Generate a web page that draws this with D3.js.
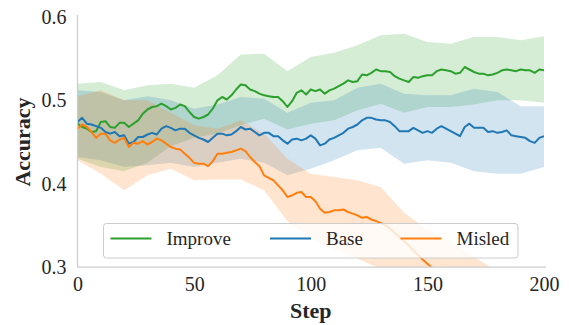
<!DOCTYPE html>
<html>
<head>
<meta charset="utf-8">
<script src="https://cdn.jsdelivr.net/npm/d3@7"></script>
<style>
  html, body { margin: 0; padding: 0; background: #fff; }
  svg { display: block; }
  svg text { font-family: "Liberation Serif", "DejaVu Serif", serif !important; }
</style>
</head>
<body>
<svg id="chart" width="569" height="325"></svg>
<script>
// ---------------- data ----------------
const seriesNames = ["Improve", "Base", "Misled"];
const seriesColors = ["#2ca02c", "#1f77b4", "#ff7f0e"];

// mean curves, one value every 2 steps (0..200)
const meanSteps = d3.range(0, 201, 2);
const improveMean = [
  0.472,0.468,0.466,0.462,0.463,0.474,0.475,0.468,0.467,0.473,
  0.473,0.468,0.472,0.476,0.484,0.489,0.492,0.493,0.496,0.493,
  0.489,0.491,0.495,0.493,0.486,0.480,0.478,0.480,0.483,0.490,
  0.500,0.504,0.501,0.506,0.513,0.519,0.518,0.513,0.511,0.508,
  0.506,0.505,0.504,0.504,0.499,0.492,0.499,0.509,0.512,0.507,
  0.513,0.511,0.513,0.508,0.512,0.514,0.517,0.520,0.524,0.522,
  0.523,0.531,0.530,0.533,0.537,0.535,0.535,0.534,0.529,0.526,
  0.524,0.522,0.528,0.527,0.529,0.530,0.530,0.535,0.537,0.536,
  0.535,0.532,0.533,0.540,0.537,0.534,0.532,0.532,0.530,0.531,
  0.533,0.536,0.537,0.536,0.535,0.537,0.536,0.536,0.533,0.537,
  0.536
];
const baseMean = [
  0.474,0.479,0.472,0.471,0.469,0.467,0.462,0.460,0.462,0.457,
  0.458,0.448,0.450,0.456,0.456,0.459,0.461,0.459,0.466,0.469,
  0.467,0.464,0.466,0.466,0.461,0.458,0.455,0.453,0.450,0.455,
  0.460,0.460,0.458,0.459,0.463,0.468,0.465,0.466,0.462,0.458,
  0.461,0.461,0.457,0.457,0.452,0.448,0.453,0.454,0.452,0.454,
  0.458,0.454,0.446,0.448,0.453,0.455,0.458,0.461,0.466,0.468,
  0.471,0.476,0.479,0.479,0.477,0.476,0.476,0.474,0.469,0.463,
  0.463,0.463,0.467,0.464,0.461,0.463,0.461,0.466,0.469,0.466,
  0.463,0.460,0.457,0.468,0.472,0.467,0.467,0.467,0.462,0.463,
  0.461,0.462,0.464,0.458,0.457,0.456,0.455,0.451,0.449,0.455,
  0.457
];
const misledMean = [
  0.466,0.471,0.468,0.462,0.455,0.460,0.460,0.452,0.449,0.453,
  0.455,0.444,0.449,0.448,0.451,0.447,0.450,0.454,0.452,0.448,
  0.444,0.442,0.441,0.436,0.431,0.425,0.424,0.424,0.421,0.427,
  0.436,0.436,0.437,0.438,0.440,0.442,0.439,0.432,0.426,0.421,
  0.410,0.407,0.404,0.398,0.392,0.384,0.386,0.389,0.390,0.384,
  0.384,0.379,0.370,0.365,0.366,0.368,0.368,0.369,0.366,0.364,
  0.362,0.359,0.360,0.357,0.355,0.353,0.350,0.346,0.341,0.336,
  0.331,0.326,0.320,0.314,0.309,0.304,0.299,0.293,0.288,0.283,
  0.278,0.274,0.268,0.265,0.259,0.255,0.251,0.246,0.242,0.238,
  0.233,0.230,0.226,0.221,0.218,0.214,0.210,0.207,0.203,0.200,
  0.197
];

// confidence bands, one value every 10 steps (0..200)
const bandSteps = d3.range(0, 201, 10);
const improveUpper = [0.520,0.522,0.512,0.518,0.520,0.515,0.530,0.555,0.556,0.535,0.552,0.557,0.566,0.578,0.580,0.570,0.568,0.576,0.576,0.572,0.577];
const improveLower = [0.430,0.420,0.415,0.425,0.445,0.455,0.460,0.470,0.478,0.465,0.472,0.476,0.488,0.496,0.485,0.492,0.492,0.495,0.500,0.500,0.497];
const baseUpper    = [0.512,0.510,0.500,0.505,0.500,0.490,0.495,0.504,0.502,0.485,0.497,0.500,0.515,0.520,0.508,0.506,0.506,0.514,0.510,0.493,0.493];
const baseLower    = [0.432,0.428,0.420,0.422,0.425,0.420,0.425,0.430,0.425,0.410,0.418,0.428,0.440,0.443,0.424,0.428,0.425,0.415,0.412,0.412,0.420];
const misledUpper  = [0.505,0.512,0.500,0.500,0.485,0.470,0.466,0.476,0.460,0.430,0.412,0.408,0.404,0.396,0.365,0.345,0.330,0.312,0.295,0.280,0.260];
const misledLower  = [0.428,0.412,0.392,0.410,0.418,0.404,0.405,0.405,0.392,0.355,0.335,0.322,0.310,0.298,0.285,0.260,0.240,0.220,0.200,0.180,0.160];

const xTicks = [0, 50, 100, 150, 200];
const yTicks = [0.3, 0.4, 0.5, 0.6];

// ---------------- layout ----------------
const FONT = '"Liberation Serif", "DejaVu Serif", serif';
const svg = d3.select("#chart");
const L = 77.5, R = 544, T = 17, B = 267;
const x = d3.scaleLinear().domain([0, 200]).range([L, R]);
const y = d3.scaleLinear().domain([0.3, 0.6]).range([B, T]);

svg.append("defs").append("clipPath").attr("id", "plotclip")
  .append("rect").attr("x", L).attr("y", T).attr("width", R - L).attr("height", B - T);

const means = [improveMean, baseMean, misledMean];
const uppers = [improveUpper, baseUpper, misledUpper];
const lowers = [improveLower, baseLower, misledLower];

const plot = svg.append("g").attr("clip-path", "url(#plotclip)");

const area = d3.area()
  .x(d => x(d.s)).y0(d => y(d.lo)).y1(d => y(d.hi));
const line = d3.line().x(d => x(d.s)).y(d => y(d.v));

// bands first (matplotlib zorder 1)
seriesNames.forEach((name, i) => {
  const pts = bandSteps.map((s, k) => ({ s, lo: lowers[i][k], hi: uppers[i][k] }));
  plot.append("path").attr("d", area(pts))
    .attr("fill", seriesColors[i]).attr("fill-opacity", 0.2).attr("stroke", "none");
});
// then lines
seriesNames.forEach((name, i) => {
  const pts = meanSteps.map((s, k) => ({ s, v: means[i][k] }));
  plot.append("path").attr("d", line(pts))
    .attr("fill", "none").attr("stroke", seriesColors[i])
    .attr("stroke-width", 2).attr("stroke-linejoin", "round").attr("stroke-linecap", "butt");
});

// axes (spines only, no tick marks)
const xAxis = d3.axisBottom(x).tickValues(xTicks).tickSize(0).tickPadding(10).tickFormat(d3.format("d"));
const yAxis = d3.axisLeft(y).tickValues(yTicks).tickSize(0).tickPadding(11).tickFormat(d3.format(".1f"));

const gx = svg.append("g").attr("transform", `translate(0,${B})`).call(xAxis);
const gy = svg.append("g").attr("transform", `translate(${L},0)`).call(yAxis);
[gx, gy].forEach(g => {
  g.attr("font-family", null).attr("font-size", null);
  g.select(".domain").attr("stroke", "#cccccc").attr("stroke-width", 1.25);
  g.selectAll("text").style("font-family", FONT).style("font-size", "20px").attr("fill", "#262626");
});
gx.select(".domain").attr("d", `M${L},0H${R + 2}`);
gy.select(".domain").attr("d", `M0,${B}V${T - 2}`);

// axis titles
svg.append("text").attr("x", (L + R) / 2).attr("y", 318)
  .attr("text-anchor", "middle").style("font-family", FONT).style("font-size", "22px")
  .attr("font-weight", "bold").attr("fill", "#262626").text("Step");
svg.append("text").attr("transform", `translate(30,${(T + B) / 2}) rotate(-90)`)
  .attr("text-anchor", "middle").style("font-family", FONT).style("font-size", "22px")
  .attr("font-weight", "bold").attr("fill", "#262626").text("Accuracy");

// legend
const lg = svg.append("g");
lg.append("rect").attr("x", 103.5).attr("y", 223.5).attr("width", 414.5).attr("height", 34.5)
  .attr("rx", 3).attr("fill", "#fff").attr("fill-opacity", 0.8)
  .attr("stroke", "#cccccc").attr("stroke-width", 1);
const legX = [110.5, 270, 400.5];
seriesNames.forEach((name, i) => {
  lg.append("line").attr("x1", legX[i]).attr("x2", legX[i] + 41)
    .attr("y1", 238.5).attr("y2", 238.5)
    .attr("stroke", seriesColors[i]).attr("stroke-width", 2);
  lg.append("text").attr("x", legX[i] + 56).attr("y", 245)
    .style("font-family", FONT).style("font-size", "19px")
    .attr("fill", "#262626").text(name);
});
</script>
</body>
</html>
